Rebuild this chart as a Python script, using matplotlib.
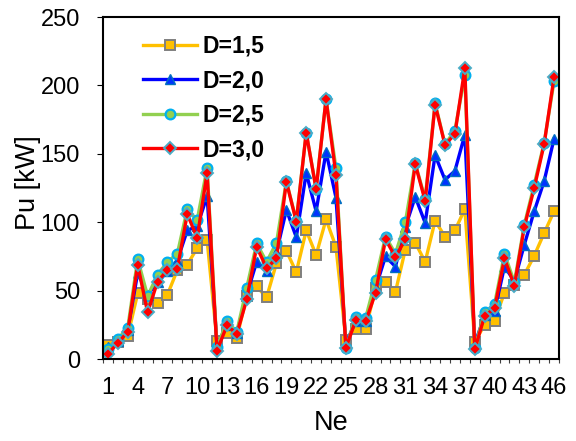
import numpy as np
import matplotlib
matplotlib.use("Agg")
import matplotlib.pyplot as plt

plt.rcParams['font.family'] = ['Liberation Sans', 'DejaVu Sans']

# number of elements on the x axis
ne = np.arange(1, 47)

# power per element [kW] for each D
pu_d15 = [10, 12.5, 17, 48, 44, 41, 47, 65, 69, 81, 87, 13,
          19, 15.5, 46, 53, 45, 70, 79, 63.5, 94, 76, 102, 82,
          14, 22, 22, 52, 56, 49, 80, 85, 71, 101, 89.5, 94, 109.5,
          12.5, 25, 28, 48.5, 54, 61.5, 75.5, 92, 108]
pu_d20 = [8.5, 13, 21, 63, 47, 56, 64, 72, 94, 97, 119, 10,
          25, 19, 47, 71, 64, 78, 109, 89, 136, 108, 151.5, 118,
          11, 28, 28, 52, 75, 67.5, 96.5, 118.5, 99.5, 149, 131, 137.5, 164,
          11, 32, 35, 67.5, 57, 83.5, 108, 130, 161]
pu_d25 = [7, 14.5, 23, 73, 46, 61.5, 71, 77, 109.5, 101.5, 139.5, 8.5,
          27.5, 20, 52, 84.5, 71, 85, 130, 101, 165.5, 124.5, 190, 139.5,
          8, 31, 30, 58, 89.5, 77, 100, 143, 117, 187, 157, 167, 207.5,
          8, 34, 40, 77, 56, 98, 127.5, 158, 203]
pu_d30 = [4, 11.5, 20, 69, 34, 56.5, 65, 66, 106, 88.5, 136, 6,
          24.5, 18.5, 43.5, 82, 66.5, 73.5, 129.5, 100.5, 165.5, 124, 190, 134.5,
          8, 28.5, 27.5, 48.5, 87.5, 74.5, 87.5, 142.5, 115.5, 186, 156.5, 164.5, 212.5,
          7, 31.5, 37, 73.5, 53.5, 96.5, 125, 157, 206]

labels = ['D=1,5', 'D=2,0', 'D=2,5', 'D=3,0']
xticks = np.arange(1, 47, 3)

fig = plt.figure(figsize=(5.76, 4.41), dpi=100)
ax = fig.add_axes([103/576, 1 - 359/441, 456/576, 342/441])

ax.plot(ne, pu_d15, color='#FFC000', lw=2.4, marker='s', ms=6.5,
        mfc='#FFC000', mec='#7F7F7F', mew=1.4, label=labels[0])
ax.plot(ne, pu_d20, color='#0000FF', lw=2.4, marker='^', ms=7,
        mfc='#0033FF', mec='#0070C0', mew=1.0, label=labels[1])
ax.plot(ne, pu_d25, color='#92D050', lw=2.4, marker='o', ms=7,
        mfc='#92D050', mec='#00B0F0', mew=1.6, label=labels[2])
ax.plot(ne, pu_d30, color='#FF0000', lw=2.4, marker='D', ms=6,
        mfc='#FF0000', mec='#4BACC6', mew=1.4, label=labels[3])

ax.set_xlim(0.5, 46.5)
ax.set_ylim(0, 250)
ax.set_yticks([0, 50, 100, 150, 200, 250])
ax.set_xticks(xticks)
ax.set_xticks(np.arange(0.5, 47, 1), minor=True)
ax.tick_params(axis='x', which='major', length=0, pad=13, labelsize=17)
ax.tick_params(axis='x', which='minor', length=3, width=0.8, color='#404040', direction='out')
ax.tick_params(axis='y', length=4.5, width=0.8, direction='out', pad=12, labelsize=17)

for sp in ax.spines.values():
    sp.set_linewidth(1.5)

ax.set_xlabel('Ne', fontsize=19.5)
ax.set_ylabel('Pu [kW]', fontsize=19.5)
ax.xaxis.set_label_coords(0.5, -0.148)
ax.yaxis.set_label_coords(-0.136, 0.515)

ax.legend(loc='upper left', bbox_to_anchor=(0.088, 0.948), frameon=False,
          prop={'weight': 'bold', 'size': 16.5}, handlelength=2.35,
          handletextpad=0.25, labelspacing=0.5, borderpad=0, borderaxespad=0)

fig.savefig('out.png', dpi=100)
